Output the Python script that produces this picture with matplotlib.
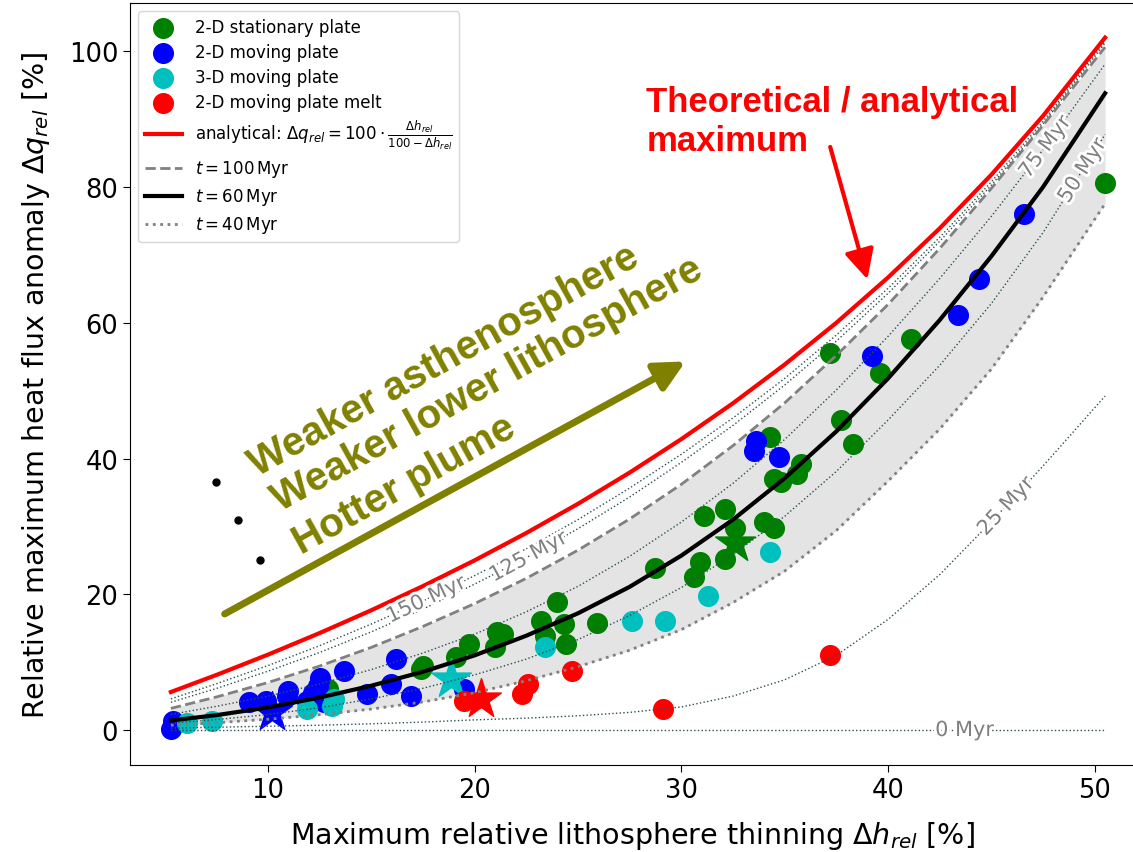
import matplotlib
matplotlib.use('Agg')
import matplotlib.pyplot as plt
import matplotlib.patheffects as pe
import numpy as np

# sampling positions of the curves (max. relative thinning, %)
h_grid = [5.3, 7.5, 10, 12.5, 15, 17.5, 20, 22.5, 25, 27.5,
          30, 32.5, 35, 37.5, 40, 42.5, 45, 47.5, 50.5]
q_analytical = [5.6, 8.11, 11.11, 14.29, 17.65, 21.21, 25.0, 29.03, 33.33, 37.93,
                42.86, 48.15, 53.85, 60.0, 66.67, 73.91, 81.82, 90.48, 102.0]
q_150 = [4.59, 6.81, 9.5, 12.43, 15.62, 19.02, 22.75, 26.71, 31.0, 35.65,
         40.63, 45.98, 51.8, 58.2, 65.07, 72.58, 80.76, 89.67, 101.5]
q_125 = [4.09, 6.12, 8.67, 11.43, 14.47, 17.82, 21.5, 25.4, 29.67, 34.33,
         39.43, 44.88, 50.83, 57.3, 64.33, 72.0, 80.27, 89.3, 101.2]
q_100 = [3.19, 4.87, 7.0, 9.43, 12.18, 15.27, 18.63, 22.35, 26.5, 31.1,
         36.2, 41.9, 48.2, 55.2, 62.7, 70.95, 79.8, 89.1, 100.6]
q_75 = [2.3, 3.49, 5.0, 6.79, 8.91, 11.35, 14.13, 17.42, 21.17, 25.6,
        30.64, 36.35, 42.81, 50.1, 58.0, 66.52, 75.68, 85.5, 98.1]
q_60 = [1.4, 2.19, 3.33, 4.79, 6.53, 8.59, 11.0, 13.9, 17.2, 21.1,
        25.7, 31.0, 37.1, 44.0, 51.8, 60.4, 69.8, 80.0, 93.8]
q_50 = [1.01, 1.54, 2.28, 3.29, 4.59, 6.15, 8.13, 10.45, 13.33, 16.88,
        21.0, 25.86, 31.5, 38.1, 45.67, 53.73, 62.84, 73.29, 87.74]
q_40 = [0.7, 1.08, 1.59, 2.26, 3.09, 4.14, 5.5, 7.26, 9.33, 11.76,
        14.79, 18.78, 23.42, 29.4, 36.67, 44.35, 53.18, 63.79, 77.54]
q_25 = [0.28, 0.41, 0.56, 0.71, 0.92, 1.17, 1.5, 1.75, 2.1, 2.6,
        3.4, 5.0, 7.4, 11.0, 16.3, 22.9, 30.7, 38.9, 49.2]
q_0 = [0] * 19

# model results
green_x = [50.5, 41.1, 37.2, 39.6, 37.7, 38.3, 34.3, 35.8, 35.6, 34.5, 34.8, 31.1, 32.1,
           32.6, 34.0, 34.5, 32.1, 30.9, 30.6, 28.7, 25.9, 24.0, 24.3, 24.4, 23.2, 23.4,
           21.0, 21.1, 21.35, 19.7, 19.1, 17.5, 17.4, 12.9]
green_y = [80.6, 57.6, 55.5, 52.6, 45.6, 42.2, 43.1, 39.2, 37.7, 37.0, 36.6, 31.6, 32.5,
           29.8, 30.6, 29.8, 25.2, 24.8, 22.6, 23.9, 15.7, 18.8, 15.6, 12.7, 16.1, 13.9,
           12.2, 14.4, 14.1, 12.7, 10.7, 9.5, 9.0, 6.0]
blue_x = [5.4, 5.3, 9.1, 9.9, 10.95, 10.9, 11.9, 12.5, 12.4, 12.2, 12.7, 13.7, 14.8,
          15.95, 16.2, 16.9, 19.5, 33.6, 33.5, 34.7, 39.2, 43.4, 44.4, 46.6]
blue_y = [1.3, 0.1, 4.1, 4.3, 5.8, 5.0, 4.3, 7.7, 6.5, 5.5, 4.1, 8.7, 5.3,
          6.8, 10.5, 5.05, 6.0, 42.6, 41.1, 40.2, 55.1, 61.1, 66.4, 76.0]
cyan_x = [6.1, 7.3, 11.9, 13.2, 13.1, 23.4, 27.6, 29.2, 31.3, 34.3]
cyan_y = [1.1, 1.4, 3.1, 4.6, 3.6, 12.2, 16.1, 16.1, 19.8, 26.2]
red_x = [19.5, 22.3, 22.6, 24.7, 29.1, 37.2]
red_y = [4.3, 5.3, 6.8, 8.7, 3.1, 11.0]

# reference cases (stars)
star_x = [32.6, 10.2, 18.85, 20.3]
star_y = [27.6, 2.6, 7.5, 4.6]

fig = plt.figure(figsize=(11.33, 8.53), dpi=100)
ax = fig.add_axes([0.1147, 0.102, 0.8862, 0.8933])
ax.set_xlim(3.32, 51.9)
ax.set_ylim(-5.15, 107.1)

ax.fill_between(h_grid, q_40, q_100, color='#e4e4e4', lw=0, zorder=1)

ax.scatter(green_x, green_y, s=200, c='g', zorder=2, label='2-D stationary plate')
ax.scatter(star_x[0], star_y[0], s=900, c='g', marker='*', zorder=2)
ax.scatter(blue_x, blue_y, s=200, c='b', zorder=2, label='2-D moving plate')
ax.scatter(star_x[1], star_y[1], s=900, c='b', marker='*', zorder=2)
ax.scatter(cyan_x, cyan_y, s=200, c='c', zorder=2, label='3-D moving plate')
ax.scatter(star_x[2], star_y[2], s=900, c='c', marker='*', zorder=2)
ax.scatter(red_x, red_y, s=200, c='r', zorder=2, label='2-D moving plate melt')
ax.scatter(star_x[3], star_y[3], s=900, c='r', marker='*', zorder=2)

thin = dict(color='darkslategray', lw=1, ls=':', zorder=3)
for q in [q_150, q_125, q_75, q_50, q_25, q_0]:
    ax.plot(h_grid, q, **thin)
l_an, = ax.plot(h_grid, q_analytical, color='r', lw=3, zorder=4,
                label=r'analytical: $\Delta q_{rel} = 100 \cdot \frac{\Delta h_{rel}}{100 - \Delta h_{rel}}$')
l100, = ax.plot(h_grid, q_100, color='gray', lw=2, ls='--', zorder=3, label=r'$t = 100\,\mathrm{Myr}$')
l60, = ax.plot(h_grid, q_60, color='k', lw=3, zorder=3, label=r'$t = 60\,\mathrm{Myr}$')
l40, = ax.plot(h_grid, q_40, color='gray', lw=2, ls=':', zorder=3, label=r'$t = 40\,\mathrm{Myr}$')

# inline labels on the time curves
fig.canvas.draw()
labels = [('0 Myr', q_0, 43.7), ('25 Myr', q_25, 45.7), ('50 Myr', q_50, 49.4),
          ('75 Myr', q_75, 47.6), ('125 Myr', q_125, 22.6), ('150 Myr', q_150, 17.65)]
for txt, q, xl in labels:
    yl = np.interp(xl, h_grid, q)
    p1 = ax.transData.transform((xl - 0.8, np.interp(xl - 0.8, h_grid, q)))
    p2 = ax.transData.transform((xl + 0.8, np.interp(xl + 0.8, h_grid, q)))
    ang = np.degrees(np.arctan2(p2[1] - p1[1], p2[0] - p1[0]))
    ax.text(xl, yl, txt, color='gray', fontsize=15, rotation=ang, ha='center', va='center',
            rotation_mode='anchor', zorder=5,
            path_effects=[pe.withStroke(linewidth=4, foreground='white')])

# annotations
bold = dict(family='Liberation Sans', fontweight='bold')
ax.annotate('', xy=(30.2, 54.3), xytext=(7.9, 17.1),
            arrowprops=dict(arrowstyle='-|>,head_width=0.9,head_length=1.8', color='olive',
                            lw=5, shrinkA=0, shrinkB=0))
ax.text(18.5, 54.6, 'Weaker asthenosphere', color='olive', fontsize=29, rotation=29,
        ha='center', va='center', rotation_mode='anchor', **bold)
ax.text(20.6, 51.0, 'Weaker lower lithosphere', color='olive', fontsize=29, rotation=29,
        ha='center', va='center', rotation_mode='anchor', **bold)
ax.text(16.6, 36.2, 'Hotter plume', color='olive', fontsize=29, rotation=29,
        ha='center', va='center', rotation_mode='anchor', **bold)
ax.plot([7.5, 8.55, 9.6], [36.5, 30.9, 25.0], 'k.', ms=10, zorder=5)

ax.text(28.3, 89.7, 'Theoretical / analytical\nmaximum', color='r', fontsize=25,
        ha='left', va='center', linespacing=1.25, **bold)
ax.annotate('', xy=(39.0, 66.4), xytext=(37.2, 85.9),
            arrowprops=dict(arrowstyle='-|>,head_width=0.9,head_length=1.8', color='r',
                            lw=3, shrinkA=0, shrinkB=0))

h, l = ax.get_legend_handles_labels()
handles = [h[l.index(k)] for k in ['2-D stationary plate', '2-D moving plate',
                                   '3-D moving plate', '2-D moving plate melt']]
handles += [l_an, l100, l60, l40]
ax.legend(handles=handles, loc='upper left', fontsize=12, handlelength=2.2,
          labelspacing=0.42, scatterpoints=1)

ax.set_xticks([10, 20, 30, 40, 50])
ax.set_yticks([0, 20, 40, 60, 80, 100])
ax.tick_params(labelsize=18.5, length=5)
ax.set_xlabel(r'Maximum relative lithosphere thinning $\Delta h_{rel}$ [%]', fontsize=20.5,
              labelpad=12)
ax.set_ylabel(r'Relative maximum heat flux anomaly $\Delta q_{rel}$ [%]', fontsize=20.5,
              labelpad=12)

fig.savefig('out.png', dpi=100)
